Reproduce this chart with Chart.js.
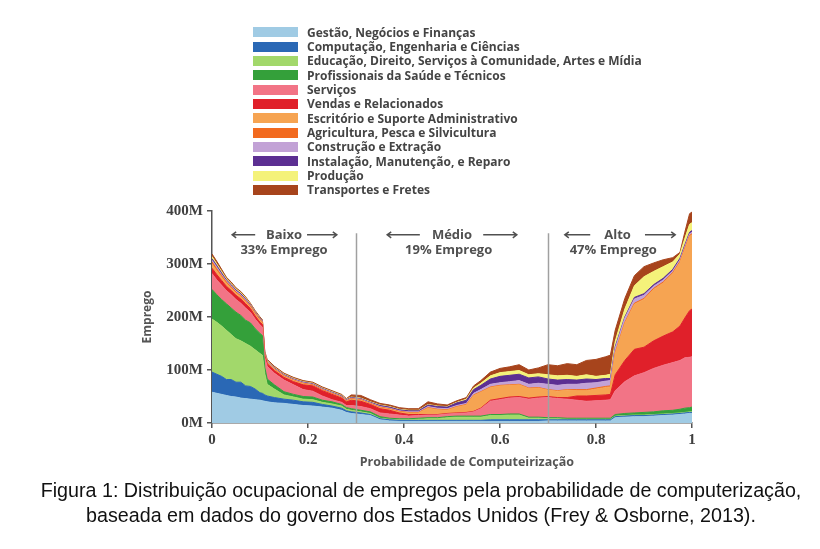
<!DOCTYPE html>
<html><head><meta charset="utf-8">
<script src="https://cdn.jsdelivr.net/npm/chart.js@4"></script>
<style>
body{margin:0;width:820px;height:549px;background:#fff;overflow:hidden;position:relative;}
#c{position:absolute;left:0;top:0;}
#legend{position:absolute;left:253px;top:25px;font:bold 12px 'Open Sans';color:#444;}
.row{height:14.35px;display:flex;align-items:center;white-space:nowrap;}
.sw{width:45px;height:10px;margin-right:9px;flex:none;}
.cap{position:absolute;left:0;width:842px;text-align:center;font:19.7px 'Liberation Sans';color:#111;white-space:nowrap;}
</style></head>
<body>
<canvas id="c" width="820" height="549"></canvas>
<div id="legend"></div>
<div class="cap" style="top:479px">Figura 1: Distribuição ocupacional de empregos pela probabilidade de computerização,</div>
<div class="cap" style="top:504px">baseada em dados do governo dos Estados Unidos (Frey &amp; Osborne, 2013).</div>
<script>
// ---- DATA (millions of jobs per occupation group, by probability of computerisation) ----
const probability = [0,0.01,0.02,0.03,0.04,0.05,0.06,0.07,0.08,0.09,0.10,0.105,
 0.11,0.115,0.13,0.15,0.17,0.19,0.21,0.23,0.25,0.27,0.28,0.29,0.31,0.33,
 0.35,0.37,0.39,0.41,0.43,0.45,0.47,0.49,0.51,0.53,0.545,0.56,0.58,0.60,0.62,0.64,0.66,0.68,
 0.70,0.72,0.74,0.76,0.78,0.80,0.82,0.83,
 0.84,0.86,0.88,0.90,0.92,0.94,0.96,0.975,0.985,0.995,1.0];

const gestao = [58,56,54,52,50,49,47,46,45,44,43,42,
 41,40,38,37,35,33,32,30,28,24,20,18,16,14,
 6,4,3,3,3,3,3,3,3,3,3,3,3,3,3,3,3,3,
 4,4,4,4,4,4,4,4,
 10,11,12,12,13,14,15,16,17,18,18];
const computacao = [38,36,34,30,32,28,30,24,24,20,14,14,
 12,11,10,8,8,7,7,5,4,4,3,3,3,2,
 2,2,2,2,2,2,2,2,2,2,2,2,3,3,3,3,3,3,
 2,2,2,2,2,2,2,2,
 2,2,2,2,2,2,2,2,2,2,2];
const educacao = [100,98,95,93,85,82,78,80,76,74,74,72,
 40,22,16,8,6,5,5,4,4,4,3,3,2,2,
 1,1,1,1,2,3,3,5,6,6,6,6,8,8,9,9,3,3,
 2,2,1,1,1,1,1,1,
 1,1,1,1,1,1,1,1,1,1,1];
const saude = [56,52,50,50,50,50,48,44,44,40,38,37,
 12,10,8,6,5,5,5,4,4,3,3,3,3,3,
 3,2,2,2,2,2,2,2,2,2,2,2,2,2,2,2,2,2,
 2,2,2,2,2,2,2,2,
 3,4,4,5,5,6,6,7,8,8,9];
const servicos = [30,28,27,25,25,24,23,23,20,18,16,16,
 18,24,22,22,18,13,11,8,4,4,4,6,7,6,
 7,8,7,5,5,5,5,5,5,6,8,14,25,28,30,31,34,36,
 38,36,36,34,32,33,34,35,
 45,60,70,75,82,86,90,92,95,95,95];
const vendas = [10,10,9,8,8,8,8,8,7,6,5,5,
 4,5,5,5,6,9,10,10,10,8,7,10,10,8,
 8,7,4,3,2,1,1,1,1,1,1,1,2,2,2,2,2,2,
 2,2,3,8,10,10,10,10,
 30,40,50,48,52,55,58,65,75,88,90];
const escritorio = [8,7,6,5,4,4,4,3,3,3,3,3,
 2,2,2,2,2,2,1,1,1,1,1,2,2,1,
 2,2,2,3,3,12,9,6,11,14,30,30,24,24,22,22,18,17,
 12,12,14,10,10,12,14,14,
 40,70,85,90,97,100,110,120,130,140,140];
const agricultura = [4,4,3,3,3,2,2,2,2,2,2,2,
 1,1,1,1,1,1,1,1,1,1,1,1,1,1,
 1,1,1,1,1,1,1,1,1,1,1,1,1,1,1,1,1,1,
 1,1,1,2,2,2,2,2,
 2,2,2,2,2,2,2,2,2,2,2];
const construcao = [3,3,2,2,2,2,2,2,1,1,1,1,
 1,1,1,1,1,1,1,1,1,1,1,1,1,1,
 1,1,1,1,1,2,2,2,2,2,3,4,5,5,6,7,7,8,
 10,10,10,10,12,10,10,10,
 8,8,8,6,4,4,3,3,3,3,3];
const instalacao = [3,3,3,2,2,2,2,2,1,1,1,1,
 1,1,1,1,1,1,1,1,1,1,1,1,1,1,
 2,2,2,2,2,3,3,3,5,6,7,8,10,12,12,12,12,12,
 10,10,9,8,8,6,5,4,
 3,2,3,3,3,3,3,3,3,3,3];
const producao = [4,3,3,2,2,2,2,2,1,1,1,1,
 1,1,1,1,1,1,1,1,1,1,1,1,1,1,
 1,1,1,1,1,1,1,1,1,2,3,4,6,7,7,7,6,6,
 8,8,8,7,8,6,6,8,
 10,15,22,32,25,22,14,8,12,15,15];
const transportes = [5,5,4,3,3,2,2,2,2,2,2,1,
 2,2,2,2,2,2,2,2,2,2,1,4,5,4,
 3,3,3,3,3,5,4,3,3,3,4,5,7,8,9,11,9,11,
 19,19,22,22,27,32,35,36,
 21,20,19,19,16,13,8,3,12,20,20];

const seriesNames = ['Gestão, Negócios e Finanças','Computação, Engenharia e Ciências',
 'Educação, Direito, Serviços à Comunidade, Artes e Mídia','Profissionais da Saúde e Técnicos',
 'Serviços','Vendas e Relacionados','Escritório e Suporte Administrativo',
 'Agricultura, Pesca e Silvicultura','Construção e Extração','Instalação, Manutenção, e Reparo',
 'Produção','Transportes e Fretes'];
const seriesValues = [gestao,computacao,educacao,saude,servicos,vendas,escritorio,agricultura,construcao,instalacao,producao,transportes];
const yTickValues = [0,100,200,300,400];
const xTickValues = [0,0.2,0.4,0.6,0.8,1];
const zoneBounds = [0.3,0.7];
const zoneNames = ['Baixo','Médio','Alto'];
const zoneShares = ['33% Emprego','19% Emprego','47% Emprego'];
const xTitle = 'Probabilidade de Computeirização';

// ---- STYLE ----
const colors = ['#a0cbe4','#2a68b5','#a2d86b','#34a03a','#f27486','#e0202a','#f6a452','#f26a1f','#c2a2d6','#5c2f92','#f4f27a','#a7441c'];

// legend (HTML)
const lg = document.getElementById('legend');
seriesNames.forEach((n,i)=>{
  const r=document.createElement('div'); r.className='row';
  const s=document.createElement('span'); s.className='sw'; s.style.background=colors[i];
  const t=document.createElement('span'); t.textContent=n;
  r.appendChild(s); r.appendChild(t); lg.appendChild(r);
});

const datasets = seriesValues.map((vals,i)=>({
  label: seriesNames[i],
  data: vals.map((v,k)=>({x:probability[k], y:v})),
  backgroundColor: colors[i], borderColor: colors[i], borderWidth: 1,
  fill: i===0 ? 'origin' : '-1', pointRadius: 0, tension: 0
}));

const zonePlugin = {
  id:'zones',
  afterDatasetsDraw(chart){
    const {ctx, scales:{x,y}} = chart;
    ctx.save();
    ctx.strokeStyle='#a0a0a0'; ctx.lineWidth=1.5;
    zoneBounds.forEach(b=>{
      const px=Math.round(x.getPixelForValue(b))+0.5;
      ctx.beginPath(); ctx.moveTo(px,y.getPixelForValue(358)); ctx.lineTo(px,y.getPixelForValue(0)); ctx.stroke();
    });
    const centers=[0.15,0.5,0.845], shareCenters=[0.15,0.493,0.836];
    const arrows=[[0.042,0.09,0.198,0.26],[0.365,0.433,0.565,0.635],[0.735,0.788,0.902,0.965]];
    const yl=y.getPixelForValue(355), ys=y.getPixelForValue(325);
    ctx.fillStyle='#505050'; ctx.textAlign='center'; ctx.textBaseline='middle';
    zoneNames.forEach((n,i)=>{
      ctx.font="bold 13px 'Open Sans'";
      ctx.fillText(n,x.getPixelForValue(centers[i]),yl);
      ctx.fillText(zoneShares[i],x.getPixelForValue(shareCenters[i]),ys);
      const a=arrows[i].map(v=>x.getPixelForValue(v));
      ctx.strokeStyle='#505050'; ctx.lineWidth=1.5;
      ctx.beginPath();
      ctx.moveTo(a[0],yl); ctx.lineTo(a[1],yl);
      ctx.moveTo(a[0]+4,yl-3); ctx.lineTo(a[0],yl); ctx.lineTo(a[0]+4,yl+3);
      ctx.moveTo(a[2],yl); ctx.lineTo(a[3],yl);
      ctx.moveTo(a[3]-4,yl-3); ctx.lineTo(a[3],yl); ctx.lineTo(a[3]-4,yl+3);
      ctx.stroke();
    });
    // x axis title (sits right of chart centre in the original)
    ctx.font="bold 12.5px 'Open Sans'"; ctx.fillStyle='#555';
    ctx.fillText(xTitle, x.getPixelForValue(0.531), x.bottom - 87);
    ctx.restore();
  }
};

const tickFont = {family:'Liberation Serif', size:15, weight:'bold'};
new Chart(document.getElementById('c'), {
  type:'line',
  data:{datasets},
  options:{
    responsive:false, animation:false, devicePixelRatio:1,
    layout:{padding:{top:211,right:128,left:0,bottom:0}},
    plugins:{legend:{display:false}, tooltip:{enabled:false}},
    scales:{
      x:{type:'linear', min:0, max:1,
        afterBuildTicks:s=>{s.ticks=xTickValues.map(v=>({value:v}));},
        ticks:{callback:v=>String(Math.round(v*10)/10), font:tickFont, color:'#404040', padding:3, maxRotation:0},
        grid:{drawOnChartArea:false, tickLength:5, color:'#555', lineWidth:1.5},
        border:{color:'#555', width:1.5},
        afterFit:s=>{s.height=126;}
      },
      y:{stacked:true, min:0, max:400,
        afterBuildTicks:s=>{s.ticks=yTickValues.map(v=>({value:v}));},
        ticks:{callback:v=>v+'M', font:tickFont, color:'#404040', padding:4},
        grid:{drawOnChartArea:false, tickLength:5, color:'#555', lineWidth:1.5},
        border:{color:'#555', width:1.5},
        title:{display:true, text:'Emprego', font:{family:'Open Sans', size:12, weight:'bold'}, color:'#555', padding:{top:140,bottom:0}},
        afterFit:s=>{s.width=212;}
      }
    }
  },
  plugins:[zonePlugin]
});
</script>
</body></html>
